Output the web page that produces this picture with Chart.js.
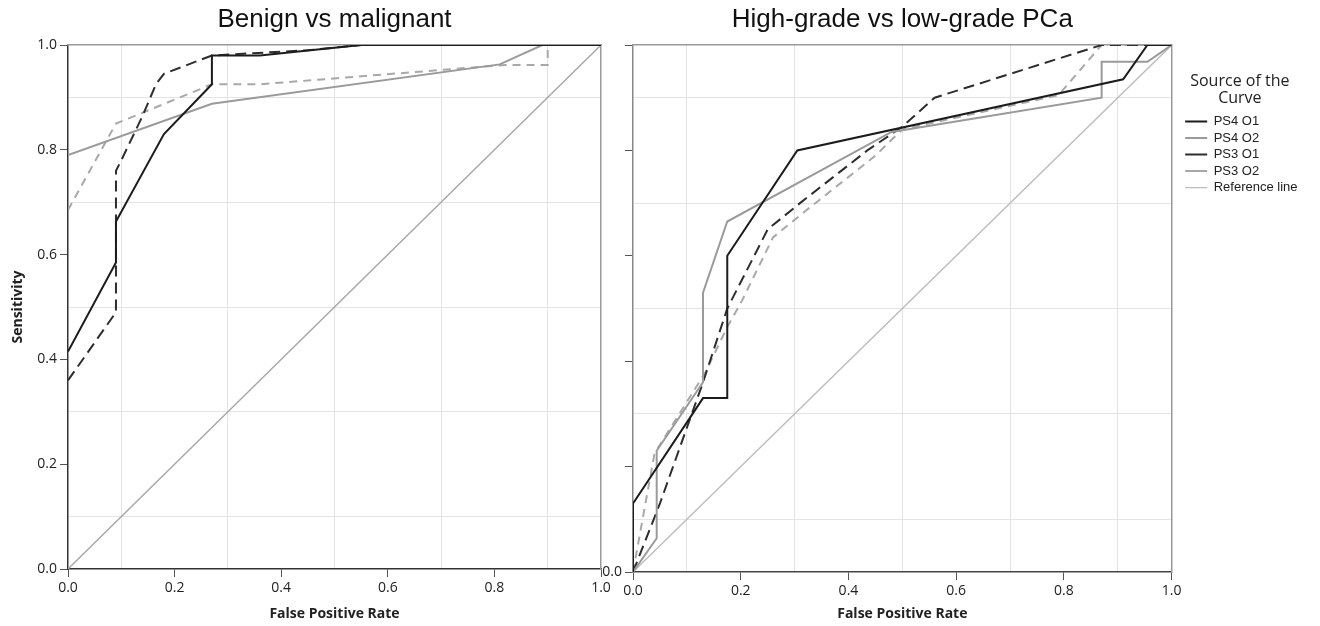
<!DOCTYPE html>
<html lang="en">
<head>
<meta charset="UTF-8">
<title>ROC curves</title>
<script src="https://cdn.jsdelivr.net/npm/chart.js@4.4.0/dist/chart.umd.min.js"></script>
<style>
  body { margin:0; background:#fff; }
  #wrap { position:relative; width:1320px; height:626px; }
  canvas { position:absolute; top:0; }
  #leftChart { left:0; }
  #rightChart { left:600px; }
</style>
</head>
<body>
<div id="wrap">
  <canvas id="leftChart" width="620" height="626"></canvas>
  <canvas id="rightChart" width="720" height="626"></canvas>
</div>
<script>
// series names and axis ticks
var seriesNames = ['PS4 O1', 'PS4 O2', 'PS3 O1', 'PS3 O2', 'Reference line'];
var axisTicks = [0, 0.1, 0.2, 0.3, 0.4, 0.5, 0.6, 0.7, 0.8, 0.9, 1.0];
var labelTicks = [0, 0.2, 0.4, 0.6, 0.8, 1.0];

// Benign vs malignant : [false positive rate, sensitivity]
var bmPS4O1 = [[0,0.415],[0.09,0.585],[0.09,0.663],[0.18,0.83],[0.27,0.925],[0.27,0.98],[0.36,0.98],[0.55,1],[1,1]];
var bmPS4O2 = [[0,0.79],[0.27,0.888],[0.81,0.963],[0.89,1],[1,1]];
var bmPS3O1 = [[0,0.36],[0.09,0.49],[0.09,0.76],[0.1,0.78],[0.14,0.865],[0.165,0.925],[0.18,0.945],[0.27,0.98],[0.45,0.99],[0.55,1],[1,1]];
var bmPS3O2 = [[0,0.685],[0.09,0.85],[0.27,0.925],[0.36,0.925],[0.82,0.962],[0.9,0.962],[0.9,1],[1,1]];
var refLine = [[0,0],[1,1]];

// High-grade vs low-grade PCa
var hgPS4O1 = [[0,0],[0,0.13],[0.13,0.33],[0.175,0.33],[0.175,0.6],[0.305,0.8],[0.91,0.935],[0.955,1],[1,1]];
var hgPS4O2 = [[0,0],[0.044,0.064],[0.044,0.23],[0.13,0.36],[0.13,0.53],[0.175,0.665],[0.48,0.835],[0.87,0.9],[0.87,0.968],[0.955,0.968],[1,1]];
var hgPS3O1 = [[0,0],[0.05,0.13],[0.13,0.36],[0.175,0.5],[0.25,0.65],[0.31,0.7],[0.435,0.8],[0.5,0.845],[0.56,0.9],[0.87,1],[1,1]];
var hgPS3O2 = [[0,0],[0.04,0.225],[0.135,0.38],[0.175,0.465],[0.2,0.51],[0.26,0.635],[0.32,0.685],[0.45,0.79],[0.5,0.84],[0.79,0.905],[0.87,1],[1,1]];

// line styles
var lineColors = ['#1c1c1c', '#9a9a9a', '#2e2e2e', '#a8a8a8', '#b0b0b0'];
var lineDashes = [[], [], [11, 6], [8, 6], []];
var lineWidths = [2, 2, 2, 2, 1.4];

Chart.defaults.font.family = "'Open Sans', sans-serif";
Chart.defaults.color = '#222';

function isLabelled(v) { return labelTicks.indexOf(v) >= 0; }

function makeSets(series, refColor) {
  return series.map(function(pts, i) {
    return {
      label: seriesNames[i],
      data: pts.map(function(p) { return {x: p[0], y: p[1]}; }),
      showLine: true,
      borderColor: (i === 4 && refColor) ? refColor : lineColors[i],
      backgroundColor: 'transparent',
      borderWidth: lineWidths[i],
      borderDash: lineDashes[i],
      pointRadius: 0,
      tension: 0
    };
  });
}

function valueAxis(pos, size, labelFn, borderColor, title) {
  var ax = {
    type: 'linear', position: pos, min: 0, max: 1,
    afterBuildTicks: function(s) { s.ticks = axisTicks.map(function(v) { return {value: v}; }); },
    afterFit: function(s) { if (pos === 'bottom') s.height = size; else s.width = size; },
    ticks: {
      autoSkip: false, maxRotation: 0, padding: 3,
      font: {size: 14}, color: '#222',
      callback: labelFn
    },
    grid: {
      color: function(c) { return (c.tick && isLabelled(c.tick.value)) ? 'rgba(0,0,0,0)' : '#e4e4e4'; },
      tickColor: function(c) { return (c.tick && isLabelled(c.tick.value)) ? '#555' : 'rgba(0,0,0,0)'; },
      tickLength: 8,
      lineWidth: 1
    },
    border: {color: borderColor, width: 1.5}
  };
  if (title) {
    ax.title = {display: true, text: title, font: {size: 14, weight: 'bold'}, color: '#222', padding: {top: 10, bottom: 4}};
  }
  return ax;
}

function frameAxis(axis, pos, size, title) {
  var ax = {
    type: 'linear', axis: axis, position: pos, min: 0, max: 1,
    afterFit: function(s) { if (pos === 'top') s.height = size; else s.width = size; },
    ticks: {display: false},
    grid: {display: false, drawTicks: false},
    border: {display: true, color: '#999', width: 1.5}
  };
  if (title) {
    ax.title = {display: true, text: title, color: '#111',
      font: {family: "'Liberation Sans', Arial, sans-serif", size: 26}, padding: {top: 4, bottom: 4}};
  }
  return ax;
}

var allLabels = function(v) { return isLabelled(v) ? v.toFixed(1) : ''; };
var zeroOnly = function(v) { return v === 0 ? '0.0' : ''; };

// left chart
new Chart(document.getElementById('leftChart'), {
  type: 'scatter',
  data: { datasets: makeSets([bmPS4O1, bmPS4O2, bmPS3O1, bmPS3O2, refLine], '#a6a6a6') },
  options: {
    responsive: false, animation: false, devicePixelRatio: 1,
    layout: {padding: 0},
    plugins: {legend: {display: false}, tooltip: {enabled: false}},
    scales: {
      x: valueAxis('bottom', 57, allLabels, '#333', 'False Positive Rate'),
      y: valueAxis('left', 68, allLabels, '#333', 'Sensitivity'),
      xTop: frameAxis('x', 'top', 45, 'Benign vs malignant'),
      yRight: frameAxis('y', 'right', 19)
    }
  }
});

// right chart
new Chart(document.getElementById('rightChart'), {
  type: 'scatter',
  data: { datasets: makeSets([hgPS4O1, hgPS4O2, hgPS3O1, hgPS3O2, refLine], '#bdbdbd') },
  options: {
    responsive: false, animation: false, devicePixelRatio: 1,
    layout: {padding: {right: 22}},
    plugins: {
      tooltip: {enabled: false},
      legend: {
        position: 'right', align: 'start',
        title: {display: true, text: ['Source of the', 'Curve'], color: '#222',
          font: {size: 16, lineHeight: 1.1}, padding: {top: 73, bottom: 21}},
        labels: {
          usePointStyle: true, pointStyle: 'line', pointStyleWidth: 22,
          padding: 3.5, color: '#222',
          font: {family: "'Liberation Sans', Arial, sans-serif", size: 13}
        }
      }
    },
    scales: {
      x: valueAxis('bottom', 54, allLabels, '#444', 'False Positive Rate'),
      y: valueAxis('left', 33, zeroOnly, '#888'),
      xTop: frameAxis('x', 'top', 45, 'High-grade vs low-grade PCa'),
      yRight: frameAxis('y', 'right', 10)
    }
  }
});
</script>
</body>
</html>
